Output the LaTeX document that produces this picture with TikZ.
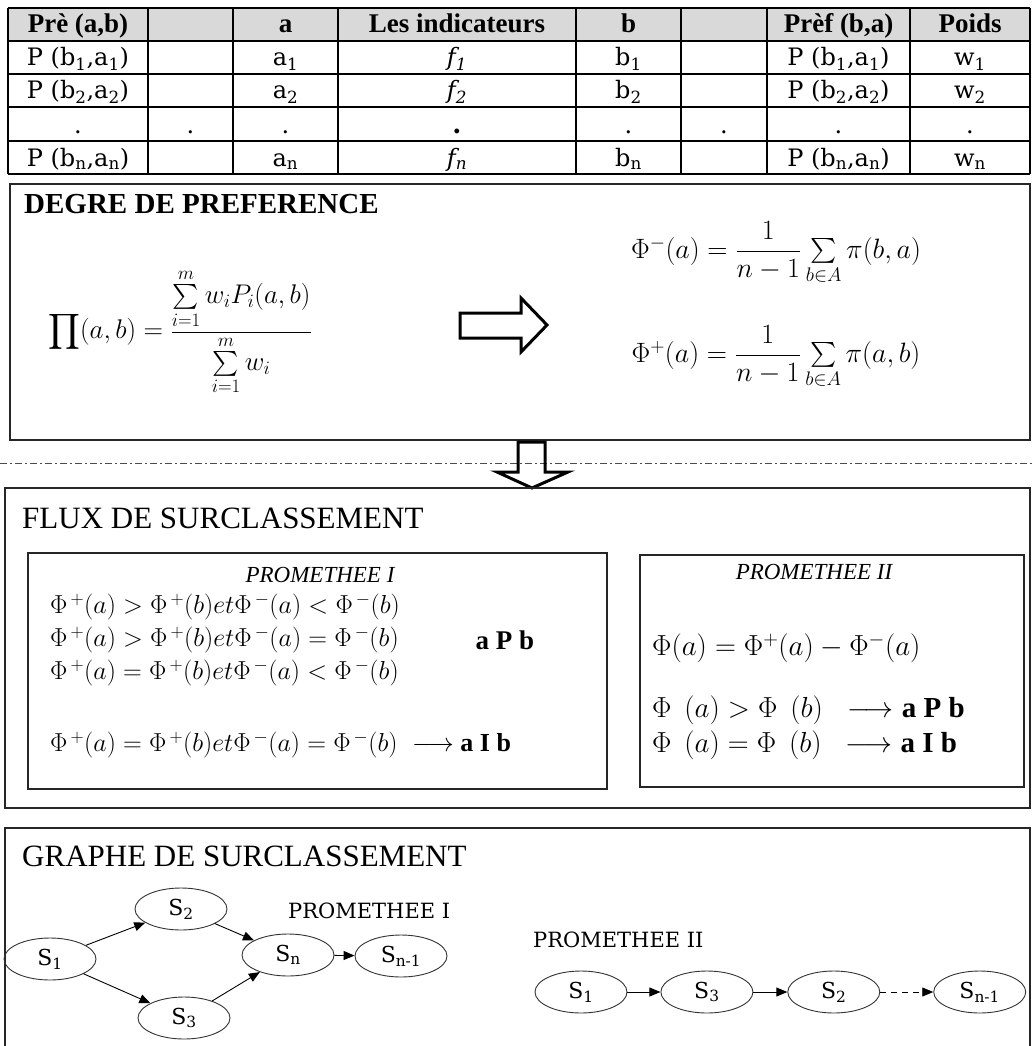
\documentclass[tikz,border=0pt]{standalone}
\usepackage{fix-cm}
\usepackage{amsmath}
\usepackage{fontspec}
\setmainfont{Liberation Serif}
\newfontfamily\datafont{DejaVu Serif}
\definecolor{hdrgray}{RGB}{217,217,217}
\usetikzlibrary{arrows.meta,positioning,shapes.geometric}
\newcommand{\ix}[1]{\textsubscript{#1}}
\newcommand{\fsz}[1]{\fontsize{#1}{#1}\selectfont}

\begin{document}
\begin{tikzpicture}[x=1pt,y=-1pt,
  cell/.style={anchor=base,inner sep=0pt,font=\datafont\fsz{24}},
  hcell/.style={anchor=base,inner sep=0pt,font=\bfseries\fsz{27}},
  frame/.style={draw=black!85,line width=1.4pt},
  title/.style={anchor=west,inner sep=0pt,font=\fsz{31}},
  formula/.style={inner sep=0pt,font=\fsz{26}},
  state/.style={draw=black!80,ellipse,line width=0.9pt,minimum width=92pt,minimum height=42pt,inner sep=0pt,font=\datafont\fsz{22}},
  flow/.style={-{Triangle[length=11pt,width=9pt]},line width=0.9pt},
  hollow/.style={draw,line width=3pt,line join=miter}]

\useasboundingbox (0,0) rectangle (1032,1046);

% table
\fill[hdrgray] (8,8) rectangle (1030,41);
\foreach \x in {8,148,233,338,576,681,767,910,1030}
  \draw[line width=1.2pt] (\x,8) -- (\x,174);
\foreach \y in {8,41,74,107,141,174}
  \draw[line width=1.2pt] (8,\y) -- (1030,\y);
\foreach \x/\txt [count=\i] in {78/{Prè (a,b)},285.5/a,457/{Les indicateurs},628.5/b,838.5/{Prèf (b,a)},970/Poids}
  \node[hcell] (h\i) at (\x,33) {\txt};
\foreach \k/\y in {1/66,2/99,n/166} {
  \node[cell] (pab\k) at (78,\y) {P (b\ix{\k},a\ix{\k})};
  \node[cell] (a\k) at (285.5,\y) {a\ix{\k}};
  \node[cell] (f\k) at (457,\y) {\textit{f\ix{\k}}};
  \node[cell] (b\k) at (628.5,\y) {b\ix{\k}};
  \node[cell] (pba\k) at (838.5,\y) {P (b\ix{\k},a\ix{\k})};
  \node[cell] (w\k) at (970,\y) {w\ix{\k}};
}
\foreach \x [count=\i] in {78,190.5,285.5,628.5,724,838.5,970}
  \node[cell] (dot\i) at (\x,133) {.};
\node[cell,font=\datafont\bfseries\fsz{26}] (dotf) at (457,133) {.};

% degre de preference
\draw[frame] (10,184) rectangle (1030,440);
\node[title,font=\bfseries\fsz{29}] (degre) at (24,204) {DEGRE DE PREFERENCE};
\node[formula,font=\fsz{27}] (prodf) at (180,332) {$\displaystyle\prod(a,b)=\frac{\sum\limits_{i=1}^{m}w_iP_i(a,b)}{\sum\limits_{i=1}^{m}w_i}$};
\draw[hollow] (460,313) -- (521,313) -- (521,298) -- (547,325) -- (521,352) -- (521,338) -- (460,338) -- cycle;
\node[formula,font=\fsz{28}] (phim) at (776,253) {$\Phi^{-}(a)=\dfrac{1}{n-1}\sum\limits_{b\in A}\pi(b,a)$};
\node[formula,font=\fsz{28}] (phip) at (776,357) {$\Phi^{+}(a)=\dfrac{1}{n-1}\sum\limits_{b\in A}\pi(a,b)$};

\draw[dash pattern=on 7pt off 3pt on 2pt off 3pt,line width=0.8pt,black!70] (0,463) -- (1032,463);
\draw[hollow] (518,442) -- (545,442) -- (545,472) -- (568,472) -- (532,488) -- (497,472) -- (518,472) -- cycle;

% flux de surclassement
\draw[frame] (5,488) rectangle (1030,808);
\node[title] (flux) at (22,518) {FLUX DE SURCLASSEMENT};
\draw[frame,line width=1.2pt] (28,553) rectangle (607,789);
\draw[frame,line width=1.2pt] (640,555) rectangle (1024,787);
\node[font=\itshape\fsz{23}] (p1t) at (320,575) {PROMETHEE I};
\node[formula,anchor=west] (c1) at (50,607) {$\Phi^{\,+}(a)>\Phi^{\,+}(b)et\Phi^{\,-}(a)<\Phi^{\,-}(b)$};
\node[formula,anchor=west] (c2) at (50,640) {$\Phi^{\,+}(a)>\Phi^{\,+}(b)et\Phi^{\,-}(a)=\Phi^{\,-}(b)$};
\node[formula,anchor=west] (c3) at (50,673) {$\Phi^{\,+}(a)=\Phi^{\,+}(b)et\Phi^{\,-}(a)<\Phi^{\,-}(b)$};
\node[font=\bfseries\fsz{27},anchor=west] (apb1) at (472,640) {a P b};
\node[formula,anchor=west] (c4) at (50,745) {$\Phi^{\,+}(a)=\Phi^{\,+}(b)et\Phi^{\,-}(a)=\Phi^{\,-}(b)\;\longrightarrow$ \textbf{a I b}};
\node[font=\itshape\fsz{23}] (p2t) at (814,572) {PROMETHEE II};
\node[formula,anchor=west,font=\fsz{29}] (phi) at (652,648) {$\Phi(a)=\Phi^{+}(a)-\Phi^{-}(a)$};
\node[formula,anchor=west,font=\fsz{29}] (r1) at (652,710) {$\Phi\;\,(a)>\Phi\;\,(b)\;\;\longrightarrow\;$\textbf{a P b}};
\node[formula,anchor=west,font=\fsz{29}] (r2) at (652,745) {$\Phi\;\,(a)=\Phi\;\,(b)\;\;\longrightarrow\;$\textbf{a I b}};

% graphe de surclassement
\draw[frame] (5,1050) |- (1030,828) -- (1030,1050);
\node[title] (graphe) at (22,856) {GRAPHE DE SURCLASSEMENT};
\node[state] (s1) at (50,959) {S\ix{1}};
\node[state] (s2) at (181,909) {S\ix{2}};
\node[state] (s3) at (184,1018) {S\ix{3}};
\node[state] (sn) at (288,955) {S\ix{n}};
\node[state] (sm) at (401,956) {S\ix{n-1}};
\node[anchor=west,inner sep=0pt,font=\datafont\fsz{21}] (lab1) at (288,911) {PROMETHEE I};
\draw[flow] (s1) -- (s2);
\draw[flow] (s1) -- (s3);
\draw[flow] (s2) -- (sn);
\draw[flow] (s3) -- (sn);
\draw[flow] (sn) -- (sm);
\node[anchor=west,inner sep=0pt,font=\datafont\fsz{21}] (lab2) at (533,940) {PROMETHEE II};
\node[state] (t1) at (581,992) {S\ix{1}};
\node[state,right=33pt of t1] (t3) {S\ix{3}};
\node[state,right=34pt of t3] (t2) {S\ix{2}};
\node[state,right=53pt of t2] (tm) {S\ix{n-1}};
\draw[flow] (t1) -- (t3);
\draw[flow] (t3) -- (t2);
\draw[flow,dash pattern=on 6pt off 5pt] (t2) -- (tm);
\end{tikzpicture}
\end{document}
